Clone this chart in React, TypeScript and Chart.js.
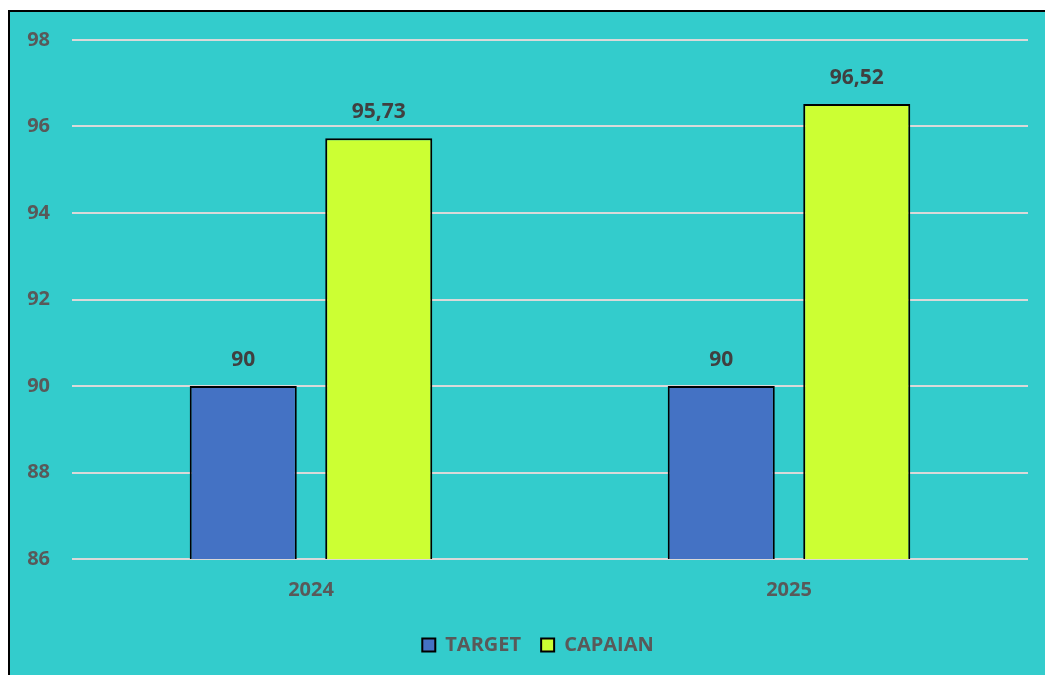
import React, { useEffect, useRef } from "react";
import { Chart, registerables } from "chart.js";

Chart.register(...registerables);

const categories = ["2024", "2025"];
const targetValues = [90, 90];
const capaianValues = [95.73, 96.52];
const seriesNames = ["TARGET", "CAPAIAN"];
const yMin = 86;
const yMax = 98;
const yStep = 2;

const FONT = "'Open Sans', sans-serif";

const dataLabelPlugin = {
  id: "dataLabels",
  afterDatasetsDraw(chart: any) {
    const ctx = chart.ctx;
    ctx.save();
    ctx.font = `bold 21px ${FONT}`;
    ctx.fillStyle = "#404040";
    ctx.textAlign = "center";
    ctx.textBaseline = "middle";
    chart.data.datasets.forEach((ds: any, di: number) => {
      const meta = chart.getDatasetMeta(di);
      meta.data.forEach((bar: any, i: number) => {
        const v = ds.data[i] as number;
        const txt = Number.isInteger(v) ? String(v) : v.toFixed(2).replace(".", ",");
        ctx.fillText(txt, bar.x, bar.y - 26);
      });
    });
    ctx.restore();
  },
};

const legendShiftPlugin = {
  id: "legendShift",
  afterLayout(chart: any) {
    const lg = chart.legend;
    if (lg) {
      lg.left += 19;
      lg.right += 19;
    }
  },
};

export default function App() {
  const ref = useRef<HTMLCanvasElement | null>(null);

  useEffect(() => {
    if (!ref.current) return;
    const chart = new Chart(ref.current, {
      type: "bar",
      data: {
        labels: categories,
        datasets: [
          {
            label: seriesNames[0],
            data: targetValues,
            backgroundColor: "#4472C4",
            borderColor: "#000000",
            borderWidth: 2,
            categoryPercentage: 0.567,
            barPercentage: 0.79,
          },
          {
            label: seriesNames[1],
            data: capaianValues,
            backgroundColor: "#CCFF33",
            borderColor: "#000000",
            borderWidth: 2,
            categoryPercentage: 0.567,
            barPercentage: 0.79,
          },
        ],
      },
      options: {
        animation: false,
        responsive: true,
        maintainAspectRatio: false,
        layout: { padding: { top: 28, right: 17, bottom: 10, left: 0 } },
        plugins: {
          tooltip: { enabled: false },
          legend: {
            position: "bottom",
            labels: {
              boxWidth: 13,
              boxHeight: 13,
              padding: 20,
              color: "#595959",
              font: { family: FONT, size: 20, weight: "bold" },
            },
          },
        },
        scales: {
          x: {
            grid: { display: false },
            border: { display: false },
            ticks: {
              color: "#595959",
              padding: 11,
              font: { family: FONT, size: 20, weight: "bold" },
            },
            afterFit: (scale: any) => {
              scale.height = 56;
            },
          },
          y: {
            min: yMin,
            max: yMax,
            ticks: {
              stepSize: yStep,
              color: "#595959",
              padding: 22,
              font: { family: FONT, size: 20, weight: "bold" },
            },
            grid: { color: "#D9D9D9", lineWidth: 2, drawTicks: false },
            border: { display: false },
            afterFit: (scale: any) => {
              scale.width = 62;
              scale.paddingTop = 12;
              scale.paddingBottom = 12;
            },
          },
        },
      },
      plugins: [dataLabelPlugin, legendShiftPlugin],
    });
    return () => chart.destroy();
  }, []);

  return (
    <div
      style={{
        position: "absolute",
        left: 8,
        top: 10,
        width: 1037,
        height: 665,
        boxSizing: "border-box",
        borderLeft: "2px solid #000",
        borderTop: "2px solid #000",
        background: "#33CCCC",
        overflow: "hidden",
      }}
    >
      <div style={{ position: "relative", width: 1035, height: 663 }}>
        <canvas ref={ref} />
      </div>
    </div>
  );
}
